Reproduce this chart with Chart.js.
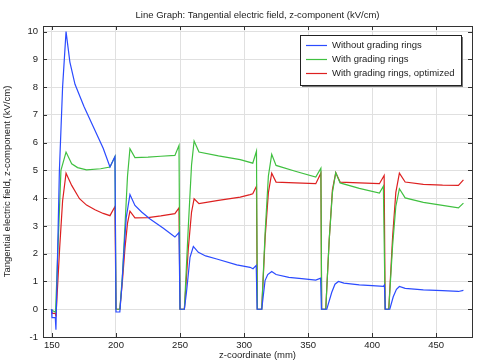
<!DOCTYPE html>
<html><head><meta charset="utf-8">
<script src="https://cdn.jsdelivr.net/npm/chart.js@4/dist/chart.umd.min.js"></script>
<style>html,body{margin:0;padding:0;background:#fff}#wrap{width:479px;height:362px}</style>
</head><body><div id="wrap"><canvas id="c" width="479" height="362"></canvas></div>
<script>
const TITLE = 'Line Graph: Tangential electric field, z-component (kV/cm)';
const X_LABEL = 'z-coordinate (mm)';
const Y_LABEL = 'Tangential electric field, z-component (kV/cm)';
const SERIES_NAMES = ['Without grading rings', 'With grading rings', 'With grading rings, optimized'];
const xTicks = [150, 200, 250, 300, 350, 400, 450];
const yTicks = [-1, 0, 1, 2, 3, 4, 5, 6, 7, 8, 9, 10];

const zBlue = [149.6,150,152.6,153.1,155.8,158.3,161,164,168,175,182,190,195.3,199.2,200,203,204.5,206.5,208,210.9,214.8,220,226.6,237,246,249.2,250,253.4,255,256.5,257.8,260.4,264.3,270,278.7,294.3,304.7,307,309.5,310.2,313.8,316.4,318.5,321.6,325,335,345,356,359.8,360.4,364.6,368.5,371,373.7,378,390,400,408.8,409.6,410.3,413.8,416.5,419,421.3,425.8,440,455,467.4,471.3];
const eBlue = [0,-0.3,-0.3,-0.74,5.0,8.0,10.0,8.9,8.1,7.3,6.6,5.8,5.12,5.5,-0.1,-0.1,0.8,2.3,3.3,4.13,3.74,3.5,3.25,2.92,2.6,2.76,0,0,0.6,1.27,1.87,2.26,2.05,1.92,1.81,1.6,1.51,1.46,1.58,0,0,1.03,1.25,1.36,1.25,1.15,1.1,1.05,1.12,0,0,0.61,0.9,1.0,0.94,0.88,0.85,0.82,0.87,0,0,0.45,0.72,0.82,0.75,0.7,0.67,0.64,0.68];

const zGreen = [149.6,150.2,152.8,157,161,165.4,170,177,188,195.3,199.2,200,203,205,207,209,210.9,214.8,225,235,246,249.2,250,253.4,256.5,259,261,264.8,280,297,306.8,309.7,310.4,313.8,316.5,319,321.6,325,340,356,360,360.6,363.8,366.5,369,371.6,375,390,405.7,408.8,410.2,413,416,418.5,421.3,425.8,440,455,467.4,471.3];
const eGreen = [0,-0.05,-0.1,5.0,5.66,5.24,5.1,5.02,5.06,5.12,5.5,0,0,1.2,3.0,4.8,5.78,5.46,5.48,5.51,5.54,5.9,0,0,3.0,5.2,6.06,5.66,5.52,5.39,5.26,5.69,0,0,2.8,4.8,5.58,5.18,4.97,4.76,5.08,0,0,2.5,4.2,4.92,4.55,4.35,4.18,4.43,0,0,2.3,3.7,4.34,4.01,3.85,3.74,3.65,3.82];

const zRed = [149.6,150.2,152.6,153.1,156,158.3,161,165.4,171.5,177,183.6,190,195.3,199.2,200,203,205,207,209,210.9,214.8,225,235,246,249.2,250,253.4,256.5,259,261,264.8,280,297,304.7,306.8,309.7,310.4,313.8,316.5,319,321.6,325,340,356,360,360.6,363.8,366.5,369,371.6,375,390,405.7,409.4,410.2,413,416,418.5,421.3,425.8,440,455,467.4,471.3];
const eRed = [-0.05,-0.15,-0.15,-0.27,2.2,3.9,4.9,4.46,3.98,3.75,3.58,3.45,3.37,3.7,0,0,1.0,2.2,3.1,3.53,3.29,3.3,3.36,3.44,3.65,0,0,2.2,3.5,3.98,3.8,3.92,4.04,4.13,4.16,4.43,0,0,2.6,4.2,4.9,4.58,4.55,4.52,4.9,0,0,2.5,4.3,4.92,4.58,4.55,4.52,4.82,0,0,2.6,4.2,4.9,4.58,4.5,4.47,4.46,4.66];

const COLORS = ['#2b4bff', '#40c040', '#dd2020'];
const FONT = "'Liberation Sans', Arial, sans-serif";
const FS = 9.5;
const TEXT = '#222';

function pts(zs, es) { return zs.map((z, i) => ({ x: z, y: es[i] })); }

const framePlugin = {
  id: 'frame',
  afterDatasetsDraw(chart) {
    const { ctx, chartArea: a, scales } = chart;
    ctx.save();
    ctx.strokeStyle = '#333';
    ctx.lineWidth = 1;
    ctx.beginPath();
    for (const v of xTicks) {
      const px = Math.round(scales.x.getPixelForValue(v)) + 0.5;
      ctx.moveTo(px, a.bottom); ctx.lineTo(px, a.bottom - 4);
      ctx.moveTo(px, a.top); ctx.lineTo(px, a.top + 4);
    }
    for (const v of yTicks) {
      const py = Math.round(scales.y.getPixelForValue(v)) + 0.5;
      ctx.moveTo(a.left, py); ctx.lineTo(a.left + 4, py);
      ctx.moveTo(a.right, py); ctx.lineTo(a.right - 4, py);
    }
    ctx.stroke();
    ctx.strokeRect(Math.round(a.left) + 0.5, Math.round(a.top) + 0.5, Math.round(a.right - a.left), Math.round(a.bottom - a.top));
    // legend
    const lx = 300, ly = 35, lw = 161, lh = 50;
    ctx.fillStyle = '#777';
    ctx.fillRect(lx + 2, ly + 2, lw, lh);
    ctx.fillStyle = '#fff';
    ctx.fillRect(lx, ly, lw, lh);
    ctx.strokeStyle = '#222';
    ctx.strokeRect(lx + 0.5, ly + 0.5, lw, lh);
    ctx.font = FS + 'px ' + FONT;
    ctx.textBaseline = 'middle';
    ctx.textAlign = 'left';
    chart.data.datasets.forEach((ds, i) => {
      const y = ly + 10.5 + i * 14;
      ctx.strokeStyle = ds.borderColor;
      ctx.lineWidth = 1.2;
      ctx.beginPath(); ctx.moveTo(lx + 6, y); ctx.lineTo(lx + 27, y); ctx.stroke();
      ctx.fillStyle = TEXT;
      ctx.fillText(ds.label, lx + 32, y);
    });
    ctx.restore();
  }
};

new Chart(document.getElementById('c'), {
  type: 'line',
  data: {
    datasets: [
      { label: SERIES_NAMES[0], data: pts(zBlue, eBlue), borderColor: COLORS[0] },
      { label: SERIES_NAMES[1], data: pts(zGreen, eGreen), borderColor: COLORS[1] },
      { label: SERIES_NAMES[2], data: pts(zRed, eRed), borderColor: COLORS[2] }
    ].map(d => Object.assign(d, { borderWidth: 1.2, pointRadius: 0, tension: 0, fill: false }))
  },
  options: {
    responsive: false,
    animation: false,
    devicePixelRatio: 1,
    layout: { padding: { left: 0, right: 7, top: 0, bottom: 0 } },
    plugins: {
      legend: { display: false },
      tooltip: { enabled: false },
      title: {
        display: true, text: TITLE, fullSize: false, color: TEXT,
        font: { family: FONT, size: FS, weight: 'normal', lineHeight: 1.2 },
        padding: { top: 9.5, bottom: 5.1 }
      }
    },
    scales: {
      x: {
        type: 'linear', min: 143, max: 478,
        afterBuildTicks: s => { s.ticks = xTicks.map(v => ({ value: v })); },
        afterFit: s => { s.height = 25; },
        grid: { color: '#e0e0e0', drawTicks: false },
        border: { display: false },
        ticks: { color: TEXT, font: { family: FONT, size: FS }, padding: 3, maxRotation: 0 },
        title: { display: true, text: X_LABEL, color: TEXT, font: { family: FONT, size: FS }, padding: { top: 0, bottom: 1 } }
      },
      y: {
        type: 'linear', min: -1, max: 10.2,
        afterBuildTicks: s => { s.ticks = yTicks.map(v => ({ value: v })); },
        afterFit: s => { s.width = 43; },
        grid: { color: '#e0e0e0', drawTicks: false },
        border: { display: false },
        ticks: { color: TEXT, font: { family: FONT, size: FS }, padding: 5 },
        title: { display: true, text: Y_LABEL, color: TEXT, font: { family: FONT, size: FS }, padding: { top: 2, bottom: 0 } }
      }
    }
  },
  plugins: [framePlugin]
});
</script>
</body></html>
